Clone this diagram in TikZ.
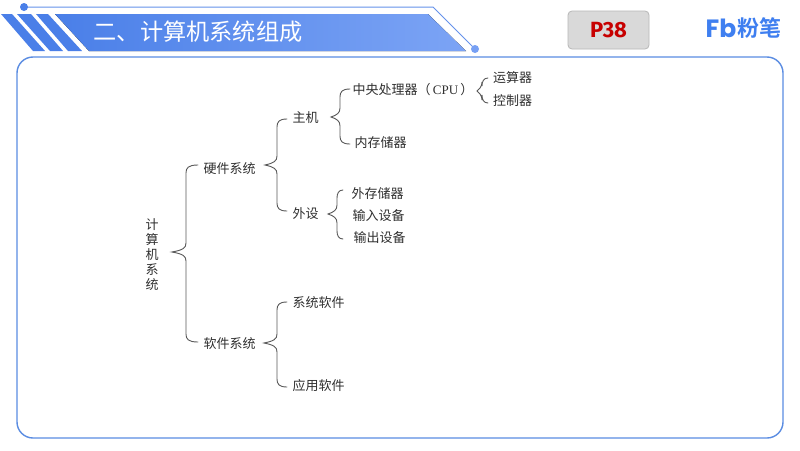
\documentclass[tikz,border=0pt]{standalone}
\usepackage{fontspec}
\setmainfont{Liberation Serif}
\newfontfamily\cjk{Noto Sans CJK SC}
\newfontfamily\cjkb{Noto Sans CJK SC Bold}
\newfontfamily\lat{Liberation Serif}
\newfontfamily\sanslat{Fira Sans}
\newfontfamily\logolat{Poppins}
\definecolor{inktext}{HTML}{303030}
\definecolor{blueA}{HTML}{4A7FE8}
\definecolor{blueB}{HTML}{7CA4F5}
\definecolor{frame}{HTML}{5A8CE2}
\definecolor{logoblue}{HTML}{3F7FF0}
\tikzset{
  lbl/.style={font=\cjk\fontsize{13}{13}\selectfont,text=inktext,inner sep=0pt},
  brace/.style={draw=inktext!80,line width=.9pt,line cap=round},
}
\newcommand{\curly}[6]{% tipx, y-mid, spinex, endx, ytop, ybot
  \coordinate (t) at (#1,#2);
  \coordinate (a) at (#4,#5);
  \coordinate (b) at (#4,#6);
  \draw[brace] (a) .. controls (#3+2,#5) and (#3,#5+3) .. (#3,#5+8)
    -- (#3,#2-9) .. controls (#3,#2-4) and (#3-3,#2-2) .. (t)
    .. controls (#3-3,#2+2) and (#3,#2+4) .. (#3,#2+9)
    -- (#3,#6-8) .. controls (#3,#6-3) and (#3+2,#6) .. (b);
}
\begin{document}
\begin{tikzpicture}[x=1pt,y=-1pt]
\useasboundingbox (0,0) rectangle (800,450);
\fill[white] (0,0) rectangle (800,450);
% header
\fill[left color=blueA,right color=blueB] (55,14) -- (428,14) -- (466,51) -- (89,51) -- cycle;
\fill[blueA] (1,14) -- (12,14) -- (45,51) -- (33,51) -- cycle;
\fill[blueA] (17,14) -- (31,14) -- (63,51) -- (50,51) -- cycle;
\fill[blueA] (36,14) -- (48,14) -- (82,51) -- (68,51) -- cycle;
\coordinate (hA) at (24,7);
\coordinate (hB) at (433,7);
\coordinate (hC) at (475,49);
\draw[blueA!85!white,line width=1pt] (hA) -- (hB) -- (hC);
\fill[blueA] (hA) circle (4);
\fill[blueB!90!blueA] (hC) circle (4);
\node[font=\cjk\fontsize{23.2}{24}\selectfont,text=white,inner sep=0pt,anchor=center] (title) at (198,32) {二、计算机系统组成};
% page badge
\node[draw=black!28,line width=.8pt,fill=black!15,rounded corners=4,minimum width=81,minimum height=38,inner sep=0pt,font=\sanslat\bfseries\fontsize{22}{22}\selectfont,text=red!78!black] (page) at (608.5,30) {P38};
% logo
\node[font=\logolat\bfseries\fontsize{25}{25}\selectfont,text=logoblue,inner sep=0pt] (logoF) at (721,28) {Fb};
\node[font=\cjkb\fontsize{22}{22}\selectfont,text=logoblue,inner sep=0pt] (logoT) at (759,28) {粉笔};
% frame
\draw[frame,line width=1.4pt,rounded corners=16] (17,57) rectangle (783,438);
% labels
\node[lbl,align=center,font=\cjk\fontsize{13}{15}\selectfont] (root) at (152,254.5) {计\\[-0.1pt]算\\[-0.1pt]机\\[-0.1pt]系\\[-0.1pt]统};
\node[lbl] (hw) at (229.5,168.5) {硬件系统};
\node[lbl] (sw) at (229.5,343.5) {软件系统};
\node[lbl] (host) at (305.5,117.5) {主机};
\node[lbl] (peri) at (305.5,213.5) {外设};
\node[lbl] (cpu) at (413,89.5) {中央处理器（\,{\lat CPU}\,）};
\node[lbl] (mem) at (380.5,142.5) {内存储器};
\node[lbl] (alu) at (512.5,77.5) {运算器};
\node[lbl] (ctl) at (512.5,100.5) {控制器};
\node[lbl] (ext) at (377.5,193.5) {外存储器};
\node[lbl] (inp) at (378.5,215.5) {输入设备};
\node[lbl] (out) at (379.5,237.5) {输出设备};
\node[lbl] (sys) at (318.5,302.5) {系统软件};
\node[lbl] (app) at (318.5,385.5) {应用软件};
% braces
\curly{172}{252}{186}{198}{165}{342}
\curly{265}{165}{277}{287}{119}{211}
\curly{331}{117}{340}{350}{89}{144}
\curly{477}{91}{482}{488}{78}{103}
\curly{328}{214}{337}{343}{190}{239}
\curly{264}{343}{277}{287}{302}{387}
\end{tikzpicture}
\end{document}
